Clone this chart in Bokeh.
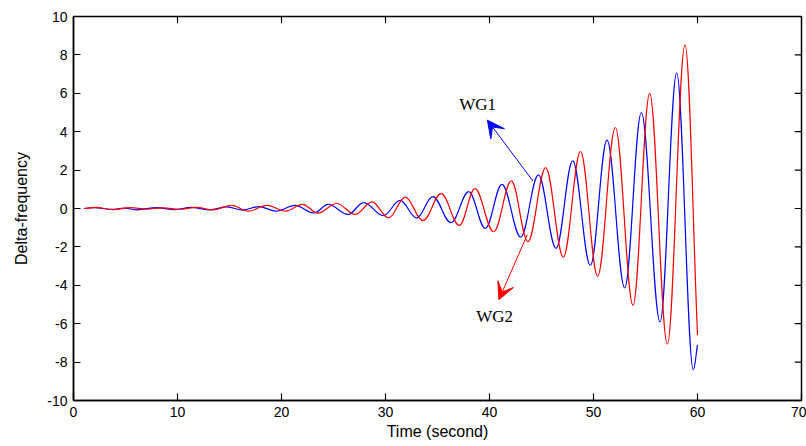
import numpy as np
from bokeh.plotting import figure
from bokeh.models import (Range1d, SingleIntervalTicker, Arrow, VeeHead,
                          Label, ColumnDataSource)
from bokeh.embed import file_html
from bokeh.resources import INLINE

# ---- data (extrema of each oscillation) ----
wg1_t = [1.0, 2.0, 3.7, 4.9, 6.1, 8.0, 9.7, 11.3, 13.1, 14.75, 16.3, 17.8, 19.5, 21.3,
         23.1, 24.5, 26.4, 27.9, 29.8, 31.4, 33.0, 34.55, 36.3, 38.0, 39.6, 41.2, 43.0,
         44.7, 46.4, 48.0, 49.7, 51.3, 53.0, 54.6, 56.4, 58.0, 59.6, 60.0]
wg1_v = [0.0, 0.05, -0.05, 0.02, -0.07, 0.05, -0.06, 0.06, -0.07, 0.08, -0.08, 0.10, -0.14,
         0.16, -0.23, 0.21, -0.31, 0.31, -0.37, 0.42, -0.50, 0.62, -0.74, 0.88, -1.04, 1.26,
         -1.49, 1.75, -2.08, 2.48, -2.97, 3.56, -4.13, 5.0, -5.9, 7.06, -8.4, -7.1]

wg2_t = [1.0, 2.1, 3.8, 5.5, 7.0, 8.6, 10.2, 11.8, 13.4, 15.2, 16.8, 18.6, 20.4, 22.0,
         23.5, 25.3, 27.1, 28.7, 30.3, 31.9, 33.6, 35.35, 37.1, 38.6, 40.4, 42.1, 43.7,
         45.4, 47.1, 48.75, 50.4, 52.1, 53.8, 55.4, 57.1, 58.8, 60.0]
wg2_v = [0.0, 0.06, -0.06, 0.05, -0.03, 0.03, -0.04, 0.06, -0.07, 0.16, -0.14, 0.16, -0.14,
         0.21, -0.24, 0.26, -0.31, 0.35, -0.49, 0.59, -0.63, 0.77, -0.88, 1.03, -1.21, 1.44,
         -1.73, 2.13, -2.53, 2.97, -3.52, 4.22, -5.04, 6.0, -7.06, 8.52, -6.6]

x_ticks = [0, 10, 20, 30, 40, 50, 60, 70]
x_tick_labels = ["0", "10", "20", "30", "40", "50", "60", "70"]
y_ticks = [-10, -8, -6, -4, -2, 0, 2, 4, 6, 8, 10]
y_tick_labels = ["-10", "-8", "-6", "-4", "-2", "0", "2", "4", "6", "8", "10"]

series_names = ["WG1", "WG2"]
series_colors = ["#0000FF", "#FF0000"]

X_MIN, X_MAX, Y_MIN, Y_MAX = 0, 70, -10, 10
TICK_LEN_X = 0.65  # inward tick length on the right edge, in x units (~7 px)
TICK_LEN_Y = 0.35  # inward tick length on the top edge, in y units (~7 px)


def smooth_segments(t, v, a=0.364):
    """Bezier segments between successive extrema (horizontal tangents at extrema)."""
    t = np.asarray(t, float)
    v = np.asarray(v, float)
    x0, y0, x1, y1 = t[:-1], v[:-1], t[1:], v[1:]
    dx = x1 - x0
    cx0 = x0 + a * dx
    cy0 = y0.copy()
    cx1 = x1 - a * dx
    cy1 = y1.copy()
    # last point is not an extremum: tangent along the chord
    cy1[-1] = y1[-1] - a * (y1[-1] - y0[-1])
    return ColumnDataSource(dict(x0=x0, y0=y0, x1=x1, y1=y1,
                                 cx0=cx0, cy0=cy0, cx1=cx1, cy1=cy1))


p = figure(width=806, height=446, output_backend="svg", toolbar_location=None,
           x_range=Range1d(X_MIN, X_MAX), y_range=Range1d(Y_MIN, Y_MAX),
           min_border_left=73, min_border_right=5, min_border_top=16, min_border_bottom=46)
p.background_fill_color = "white"
p.border_fill_color = "white"
p.outline_line_color = "black"
p.outline_line_width = 1.5
p.xgrid.visible = False
p.ygrid.visible = False

for ax in [p.xaxis[0], p.yaxis[0]]:
    ax.axis_line_width = 1.5
    ax.axis_line_color = "black"
    ax.major_tick_in = 7
    ax.major_tick_out = 0
    ax.major_tick_line_width = 1.2
    ax.minor_tick_line_color = None
    ax.major_label_text_font = "Liberation Sans"
    ax.major_label_text_font_size = "14px"
    ax.major_label_text_color = "black"
    ax.axis_label_text_font = "Liberation Sans"
    ax.axis_label_text_font_size = "16px"
    ax.axis_label_text_font_style = "normal"
    ax.axis_label_text_color = "black"

p.xaxis.ticker = SingleIntervalTicker(interval=10, num_minor_ticks=0)
p.yaxis.ticker = SingleIntervalTicker(interval=2, num_minor_ticks=0)
p.xaxis.major_label_overrides = {t: s for t, s in zip(x_ticks, x_tick_labels)}
p.yaxis.major_label_overrides = {t: s for t, s in zip(y_ticks, y_tick_labels)}
p.xaxis.axis_label = "Time (second)"
p.yaxis.axis_label = "Delta-frequency"
p.xaxis.major_label_standoff = 6
p.xaxis.axis_label_standoff = 3
p.yaxis.major_label_standoff = 6
p.yaxis.axis_label_standoff = 14

# mirrored inward ticks on the top and right edges
inner_x = x_ticks[1:-1]
inner_y = y_ticks[1:-1]
p.segment(x0=inner_x, y0=[Y_MAX] * len(inner_x), x1=inner_x,
          y1=[Y_MAX - TICK_LEN_Y] * len(inner_x), line_color="black", line_width=1.2)
p.segment(x0=[X_MAX] * len(inner_y), y0=inner_y, x1=[X_MAX - TICK_LEN_X] * len(inner_y),
          y1=inner_y, line_color="black", line_width=1.2)

for (t, v), c in zip([(wg1_t, wg1_v), (wg2_t, wg2_v)], series_colors):
    src = smooth_segments(t, v)
    p.bezier(x0="x0", y0="y0", x1="x1", y1="y1", cx0="cx0", cy0="cy0",
             cx1="cx1", cy1="cy1", source=src, line_color=c, line_width=1.2)

# annotations
arrows = [
    (44.18, 1.43, 39.8, 4.6),
    (43.64, -1.36, 40.9, -4.75),
]
label_pos = [(38.85, 5.4), (40.5, -5.6)]
for (xs, ys, xe, ye), c, name, (lx, ly) in zip(arrows, series_colors, series_names, label_pos):
    p.add_layout(Arrow(end=VeeHead(size=17, fill_color=c, line_color=c, line_width=1),
                       x_start=xs, y_start=ys, x_end=xe, y_end=ye,
                       line_color=c, line_width=1))
    p.add_layout(Label(x=lx, y=ly, text=name, text_align="center", text_baseline="middle",
                       text_font="Liberation Serif", text_font_size="17px", text_color="black"))

open("out.html", "w").write(file_html(p, INLINE))
